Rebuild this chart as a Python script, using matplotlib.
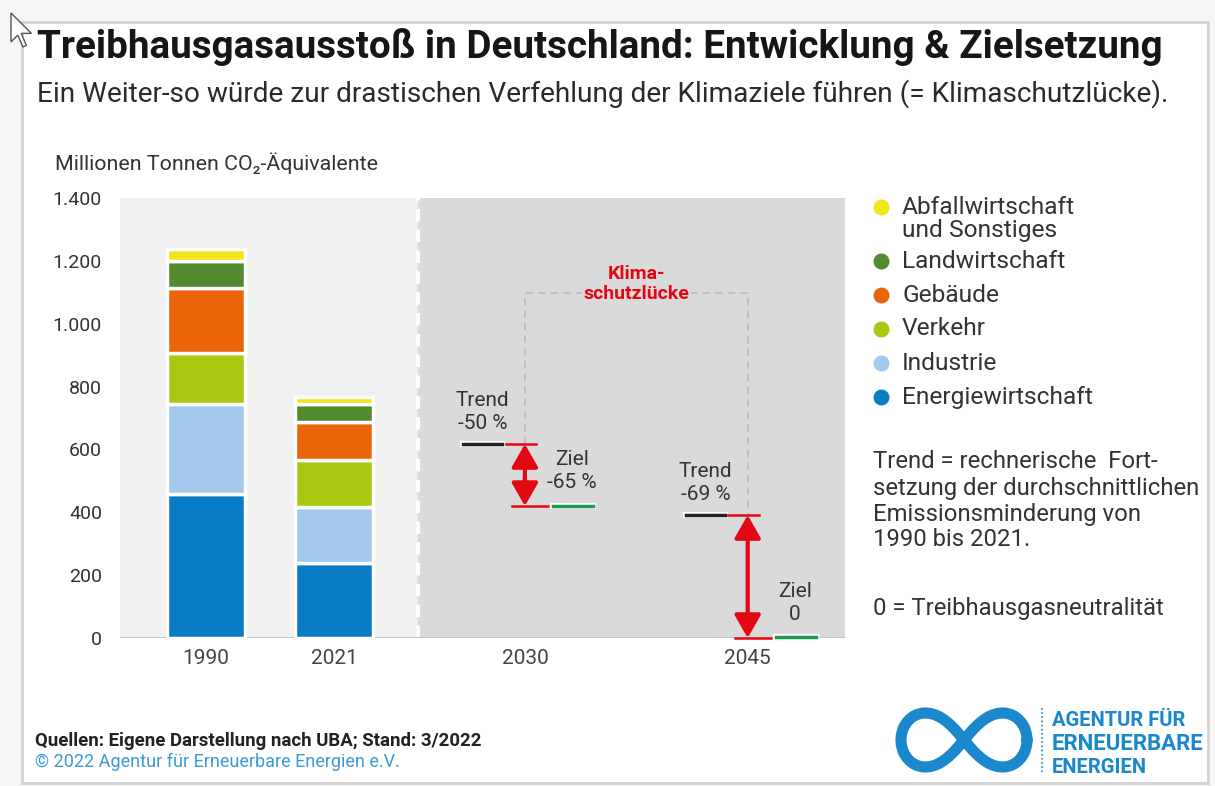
"""Treibhausgasausstoss in Deutschland: Entwicklung & Zielsetzung (AEE, 3/2022)."""
import numpy as np
import matplotlib

matplotlib.use("Agg")
import matplotlib.pyplot as plt
import matplotlib.patheffects as pe
from matplotlib.patches import Rectangle, Polygon
from matplotlib.ticker import FuncFormatter

W, H = 1215, 786
plt.rcParams["font.family"] = ["Roboto", "DejaVu Sans"]

# --- data (Mio. t CO2-Aequivalente) -------------------------------------
years = ["1990", "2021"]
sectors = ["Energiewirtschaft", "Industrie", "Verkehr", "Gebäude",
           "Landwirtschaft", "Abfallwirtschaft\nund Sonstiges"]
em_1990 = [458, 286, 163, 208, 84, 38]
em_2021 = [240, 177, 150, 119, 58, 22]
sector_colors = ["#0a7cc6", "#a2c9ec", "#a9c812", "#ea6409", "#528a30", "#f2e51c"]

target_years = ["2030", "2045"]
trend = [617, 391]
ziel = [420, 0]
trend_labels = ["Trend\n-50 %", "Trend\n-69 %"]
ziel_labels = ["Ziel\n-65 %", "Ziel\n0"]

note_lines = ["Trend = rechnerische  Fort-", "setzung der durchschnittlichen",
              "Emissionsminderung von", "1990 bis 2021."]

RED = "#e30613"
GREEN = "#1e9a55"
BLUE = "#1b87cc"

# --- layout ---------------------------------------------------------------
bar_x = [0.0, 1.0]
target_x = [2.49, 4.23]
x_lo, x_hi, x_sep = -0.672, 4.99, 1.656

fig = plt.figure(figsize=(W / 100, H / 100), dpi=100)
fig.patch.set_facecolor("#f6f6f6")


def ft(x, y, s, **kw):
    return fig.text(x / W, 1 - y / H, s, **kw)


def fit(t, width_px):
    r = fig.canvas.get_renderer()
    w = t.get_window_extent(r).width
    t.set_fontsize(t.get_fontsize() * width_px / w)
    return t.get_fontsize()


# overlay for frame, legend, logo
ov = fig.add_axes([0, 0, 1, 1], zorder=-1)
ov.set_xlim(0, W)
ov.set_ylim(H, 0)
ov.axis("off")
ov.add_patch(Rectangle((22, 22), 1186, 761, fc="white", ec="#d4d4d4", lw=2))
cursor = np.array([(0, 0), (0, 17), (4, 13), (7, 20), (9, 19), (6, 12), (12, 12)]) * 1.7 + [11, 13]
ov.add_patch(Polygon(cursor, closed=True, fc="white", ec="#555", lw=1))

ax = fig.add_axes([120 / W, 1 - 638 / H, 725 / W, 440 / H], zorder=0)
ax.set_facecolor("none")
ax.set_xlim(x_lo, x_hi)
ax.set_ylim(0, 1400)
ax.axvspan(x_lo, x_sep, color="#f0f0f0", zorder=0)
ax.axvspan(x_sep, x_hi, color="#dadada", zorder=0)
ax.axvline(x_sep, color="white", lw=3, ls=(0, (3, 2)), zorder=1)
ax.axhline(0, color="#c4c4c4", lw=1.5, zorder=1)
for s in ax.spines.values():
    s.set_visible(False)

# stacked bars
bottom = np.zeros(2)
for i, c in enumerate(sector_colors):
    vals = np.array([em_1990[i], em_2021[i]])
    ax.bar(bar_x, vals, bottom=bottom, width=0.61, color=c, edgecolor="white",
           linewidth=2.5, zorder=2)
    bottom += vals

# trend / target markers
white_edge = [pe.Stroke(linewidth=4.5, foreground="white"), pe.Normal()]
for i, cx in enumerate(target_x):
    ax.plot([cx - 0.48, cx - 0.18], [trend[i]] * 2, color="#222", lw=2.5,
            path_effects=white_edge, zorder=4, clip_on=False)
    ax.plot([cx - 0.15, cx + 0.09], [trend[i]] * 2, color=RED, lw=1.8, zorder=4)
    ax.plot([cx - 0.10, cx + 0.18], [ziel[i]] * 2, color=RED, lw=1.8, zorder=4,
            clip_on=False)
    ax.plot([cx + 0.22, cx + 0.53], [ziel[i] + (4 if ziel[i] == 0 else 0)] * 2,
            color=GREEN, lw=2.5, path_effects=white_edge, zorder=4, clip_on=False)
    ax.annotate("", xy=(cx, trend[i]), xytext=(cx, ziel[i]),
                arrowprops=dict(arrowstyle="<|-|>,head_length=0.7,head_width=0.4",
                                color=RED, lw=3, shrinkA=0, shrinkB=0,
                                mutation_scale=20), zorder=5)
    ax.annotate(trend_labels[i], xy=(cx - 0.33, trend[i]), xytext=(0, 11),
                textcoords="offset points", ha="center", va="baseline",
                fontsize=15, color="#333", linespacing=1.25, zorder=5)
    ax.annotate(ziel_labels[i], xy=(cx + 0.37, ziel[i]), xytext=(0, 13),
                textcoords="offset points", ha="center", va="baseline",
                fontsize=15, color="#333", linespacing=1.25, zorder=5)

# Klimaschutzluecke bracket
top = 1098
ax.plot([target_x[0], target_x[0], target_x[1], target_x[1]],
        [trend[0], top, top, trend[1]], color="#cdb6ba", lw=1.3,
        ls=(0, (4, 3)), zorder=3)
ax.text(np.mean(target_x), 1126, "Klima-\nschutzlücke", ha="center", va="center",
        color=RED, fontsize=14, fontweight="bold", linespacing=1.15, zorder=4,
        bbox=dict(fc="#dadada", ec="none", pad=1))

# ticks
ax.set_yticks(range(0, 1401, 200))
ax.yaxis.set_major_formatter(FuncFormatter(lambda v, _: f"{int(v):,}".replace(",", ".")))
ax.tick_params(axis="y", length=0, pad=13, labelsize=14, labelcolor="#333")
ax.set_xticks(bar_x + target_x, years + target_years)
ax.tick_params(axis="x", length=0, pad=8, labelsize=15, labelcolor="#444")

# titles
t = ft(37, 58, "Treibhausgasausstoß in Deutschland: Entwicklung & Zielsetzung",
       va="baseline", fontsize=24, fontweight="bold", color="#161616")
fit(t, 1127)
t = ft(37, 102, "Ein Weiter-so würde zur drastischen Verfehlung der Klimaziele führen (= Klimaschutzlücke).",
       va="baseline", fontsize=16, color="#2a2a2a")
fit(t, 1135)
t = ft(55, 170, "Millionen Tonnen CO₂-Äquivalente", va="baseline", fontsize=12.5,
       color="#333")
fit(t, 323)

# legend (top to bottom)
probe = ft(0, 0, "Energiewirtschaft", fontsize=14.5)
leg_size = fit(probe, 190)
probe.remove()
leg_y = [207, 261, 295, 329, 363, 397]
for name, c, y in zip(sectors[::-1], sector_colors[::-1], leg_y):
    ov.plot(881, y, "o", ms=11.5, color=c, mec="none")
    for k, line in enumerate(name.split("\n")):
        ft(902, y + 23 * k, line, va="center", fontsize=leg_size, color="#333")

probe = ft(0, 0, note_lines[1], fontsize=14.5)
note_size = fit(probe, 325)
probe.remove()
for k, line in enumerate(note_lines):
    ft(873, 462 + 26 * k, line, va="center", fontsize=note_size, color="#333")
ft(873, 608, "0 = Treibhausgasneutralität", va="center", fontsize=note_size, color="#333")

# footer
t = ft(35, 746, "Quellen: Eigene Darstellung nach UBA; Stand: 3/2022", va="baseline",
       fontsize=10.5, fontweight="bold", color="#222")
fit(t, 450)
t = ft(35, 767, "© 2022 Agentur für Erneuerbare Energien e.V.", va="baseline",
       fontsize=10.5, color="#3d9ad6")
fit(t, 365)

# logo
tt = np.linspace(0, 2 * np.pi, 400)
lx = np.cos(tt) / (1 + np.sin(tt) ** 2)
ly = np.sin(tt) * np.cos(tt) / (1 + np.sin(tt) ** 2)
ov.plot(964 + 63 * lx, 740 + 27 / 0.354 * ly, color=BLUE, lw=8, solid_capstyle="round")
ov.plot([1042, 1042], [708, 772], color=BLUE, lw=1.2, ls=(0, (1, 1.5)))
for k, line in enumerate(["AGENTUR FÜR", "ERNEUERBARE", "ENERGIEN"]):
    t = ft(1052, 726 + 23.5 * k, line, va="baseline", fontsize=14.5,
           fontweight="bold", color=BLUE)
    if k == 1:
        fit(t, 152)

fig.savefig("out.png", dpi=100)
